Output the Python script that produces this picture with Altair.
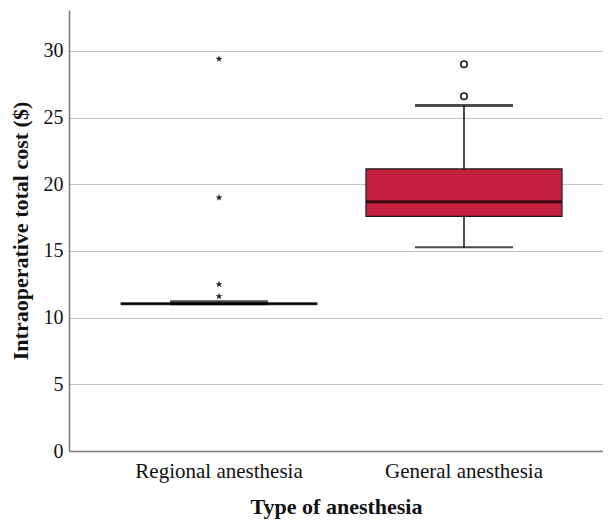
import altair as alt
import pandas as pd

groups = ["Regional anesthesia", "General anesthesia"]
lower_whisker = [11.0, 15.28]
q1 = [11.02, 17.6]
median = [11.05, 18.7]
q3 = [11.08, 21.15]
upper_whisker = [11.2, 25.9]

star_group = ["Regional anesthesia"] * 4
star_values = [29.4, 19.0, 12.5, 11.6]
circle_group = ["General anesthesia"] * 2
circle_values = [29.0, 26.6]

stats = pd.DataFrame({
    "group": groups, "lo": lower_whisker, "q1": q1, "med": median,
    "q3": q3, "hi": upper_whisker,
})
stars = pd.DataFrame({"group": star_group, "value": star_values})
circles = pd.DataFrame({"group": circle_group, "value": circle_values})

FONT = "Liberation Serif"
xscale = alt.Scale(domain=groups, paddingInner=0, paddingOuter=0.09, align=0.625)
yscale = alt.Scale(domain=[0, 33.07], nice=False, zero=False)

x = alt.X("group:N", scale=xscale, sort=groups,
          axis=alt.Axis(title="Type of anesthesia", labelAngle=0, tickSize=0,
                        labelPadding=9, titlePadding=15, domainColor="#7a7a7a",
                        domainWidth=1.5, labelFontSize=21, titleFontSize=22))
y_axis = alt.Axis(title="Intraoperative total cost ($)", values=[0, 5, 10, 15, 20, 25, 30],
                  tickSize=0, labelPadding=6, titlePadding=11, grid=True,
                  gridColor="#c4c4c4", gridWidth=1.2, domainColor="#7a7a7a",
                  domainWidth=1.5, labelFontSize=20, titleFontSize=22)

base = alt.Chart(stats)

whisker = base.mark_rule(color="#111111", strokeWidth=1.5).encode(
    x=x, y=alt.Y("lo:Q", scale=yscale, axis=y_axis), y2="hi:Q")
caps_lo = base.mark_tick(color="#000000", size=98, thickness=2, orient="horizontal").encode(
    x=x, y=alt.Y("lo:Q", scale=yscale))
caps_hi = base.mark_tick(color="#000000", size=98, thickness=3, orient="horizontal").encode(
    x=x, y=alt.Y("hi:Q", scale=yscale))
box = base.mark_bar(size=196, color="#c8203f", stroke="#1a1a1a", strokeWidth=1.2).encode(
    x=x, y=alt.Y("q1:Q", scale=yscale), y2="q3:Q")
med = base.mark_tick(color="#000000", size=196, thickness=3, orient="horizontal").encode(
    x=x, y=alt.Y("med:Q", scale=yscale))

star_path = ("M0,-1L0.2245,-0.309L0.951,-0.309L0.363,0.118L0.588,0.809"
             "L0,0.382L-0.588,0.809L-0.363,0.118L-0.951,-0.309L-0.2245,-0.309Z")
star_marks = alt.Chart(stars).mark_point(shape=star_path, filled=True, color="#222222",
                                         size=55, opacity=1).encode(
    x=alt.X("group:N", scale=xscale, sort=groups), y=alt.Y("value:Q", scale=yscale))
circle_marks = alt.Chart(circles).mark_point(shape="circle", filled=False, color="#222222",
                                             size=42, strokeWidth=1.6, opacity=1).encode(
    x=alt.X("group:N", scale=xscale, sort=groups), y=alt.Y("value:Q", scale=yscale))

chart = alt.layer(whisker, box, caps_lo, caps_hi, med, star_marks, circle_marks).properties(
    width=534, height=441,
    autosize=alt.AutoSizeParams(type="none"),
    padding={"left": 61, "top": 2, "right": 0, "bottom": 69},
).configure_view(stroke=None).configure_axis(
    labelFont=FONT, titleFont=FONT,
    labelColor="#111111", titleColor="#111111", titleFontWeight="bold",
)

chart.save("out.html", embed_options={"renderer": "svg", "actions": False})
